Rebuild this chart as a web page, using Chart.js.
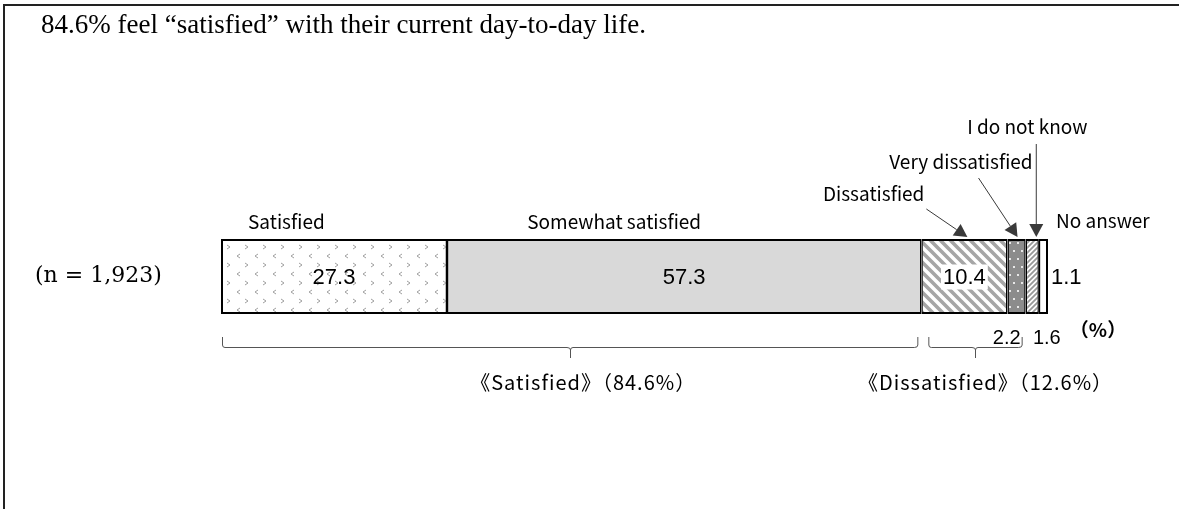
<!DOCTYPE html>
<html>
<head>
<meta charset="utf-8">
<script src="https://cdn.jsdelivr.net/npm/chart.js@4"></script>
<style>
  html, body { margin: 0; padding: 0; background: #fff; }
  #wrap { width: 1179px; height: 509px; position: relative; }
</style>
</head>
<body>
<div id="wrap"><canvas id="chart"></canvas></div>
<script>
// Data
const categories = ['Satisfied', 'Somewhat satisfied', 'Dissatisfied', 'Very dissatisfied', 'I do not know', 'No answer'];
const values = [27.3, 57.3, 10.4, 2.2, 1.6, 1.1];
const groupLabels = ['《Satisfied》（84.6%）', '《Dissatisfied》（12.6%）'];
const sampleLabel = '(n = 1,923)';
const titleText = '84.6% feel \u201csatisfied\u201d with their current day-to-day life.';

const canvas = document.getElementById('chart');
const ctx = canvas.getContext('2d');

function makePattern(w, h, bg, draw) {
    const c = document.createElement('canvas');
    c.width = w; c.height = h;
    const g = c.getContext('2d');
    g.fillStyle = bg;
    g.fillRect(0, 0, w, h);
    draw(g);
    return ctx.createPattern(c, 'repeat');
}

// small < > marks on white
const chevrons = makePattern(18, 18, '#ffffff', function(g) {
    g.strokeStyle = '#a0a0a0';
    g.lineWidth = 1;
    g.beginPath();
    g.moveTo(6, 2); g.lineTo(3, 4); g.lineTo(6, 6);
    g.moveTo(11, 11); g.lineTo(14, 13); g.lineTo(11, 15);
    g.stroke();
});

// wide "\" stripes
const wideStripes = makePattern(10, 10, '#ffffff', function(g) {
    g.strokeStyle = '#a6a6a6';
    g.lineWidth = 3.6;
    g.beginPath();
    g.moveTo(-5, -5); g.lineTo(15, 15);
    g.moveTo(-15, -5); g.lineTo(5, 15);
    g.moveTo(5, -5); g.lineTo(25, 15);
    g.stroke();
});

// dark grey with white dots
const dots = makePattern(8, 16, '#8c8c8c', function(g) {
    g.fillStyle = '#e8e8e8';
    g.fillRect(1, 2, 2, 2);
    g.fillRect(5, 10, 2, 2);
});

// fine "/" stripes
const fineStripes = makePattern(5, 5, '#ffffff', function(g) {
    g.strokeStyle = '#999999';
    g.lineWidth = 1.8;
    g.beginPath();
    g.moveTo(-2.5, 7.5); g.lineTo(7.5, -2.5);
    g.moveTo(-5, 5); g.lineTo(5, -5);
    g.moveTo(0, 10); g.lineTo(10, 0);
    g.stroke();
});

const fills = [chevrons, '#d9d9d9', wideStripes, dots, fineStripes, '#ffffff'];

const labelFont = '19px "Noto Sans CJK JP"';
const numFont = '22px "Liberation Sans"';

function arrow(c, x1, y1, x2, y2) {
    const ang = Math.atan2(y2 - y1, x2 - x1);
    const hl = 13, hw = 7;
    const bx = x2 - hl * Math.cos(ang), by = y2 - hl * Math.sin(ang);
    c.strokeStyle = '#3a3a3a';
    c.fillStyle = '#3a3a3a';
    c.lineWidth = 1;
    c.beginPath();
    c.moveTo(x1, y1); c.lineTo(bx, by);
    c.stroke();
    c.beginPath();
    c.moveTo(x2, y2);
    c.lineTo(bx + hw * Math.sin(ang), by - hw * Math.cos(ang));
    c.lineTo(bx - hw * Math.sin(ang), by + hw * Math.cos(ang));
    c.closePath();
    c.fill();
}

function bracket(c, xa, xb, y) {
    const mid = Math.round((xa + xb) / 2);
    c.strokeStyle = '#555555';
    c.lineWidth = 1;
    c.beginPath();
    c.moveTo(xa + 0.5, y - 10); c.lineTo(xa + 0.5, y - 2);
    c.quadraticCurveTo(xa + 0.5, y + 0.5, xa + 3, y + 0.5);
    c.lineTo(mid - 3, y + 0.5);
    c.quadraticCurveTo(mid + 0.5, y + 0.5, mid + 0.5, y + 3);
    c.lineTo(mid + 0.5, y + 11);
    c.moveTo(mid + 0.5, y + 3);
    c.quadraticCurveTo(mid + 0.5, y + 0.5, mid + 3, y + 0.5);
    c.lineTo(xb - 3, y + 0.5);
    c.quadraticCurveTo(xb + 0.5, y + 0.5, xb + 0.5, y - 2);
    c.lineTo(xb + 0.5, y - 10);
    c.stroke();
}

const annotations = {
    id: 'annotations',
    beforeDraw(chart) {
        const c = chart.ctx;
        c.save();
        c.fillStyle = '#ffffff';
        c.fillRect(0, 0, chart.width, chart.height);
        // frame
        c.strokeStyle = '#222222';
        c.lineWidth = 2;
        c.beginPath();
        c.moveTo(4, chart.height);
        c.lineTo(4, 5);
        c.lineTo(chart.width, 5);
        c.stroke();
        c.restore();
    },
    afterDatasetsDraw(chart) {
        const c = chart.ctx;
        const bars = chart.data.datasets.map((d, i) => chart.getDatasetMeta(i).data[0]);
        const left = bars.map(b => Math.min(b.base, b.x));
        const right = bars.map(b => Math.max(b.base, b.x));
        const cy = bars[0].y;
        const top = cy - bars[0].height / 2;
        const bottom = cy + bars[0].height / 2;
        const mid = i => (left[i] + right[i]) / 2;
        const fmt = v => v.toFixed(1);

        c.save();
        // title
        c.fillStyle = '#000';
        c.font = '27px "Liberation Serif"';
        c.textBaseline = 'middle';
        c.textAlign = 'left';
        c.fillText(titleText, 41, 26);

        // sample size
        c.font = '22px "DejaVu Serif"';
        c.fillText(sampleLabel, 35, cy);

        // values inside the big segments
        c.font = numFont;
        c.textAlign = 'center';
        [0, 1, 2].forEach(i => {
            const t = fmt(values[i]);
            if (i === 2) {
                const w = c.measureText(t).width;
                c.fillStyle = '#ffffff';
                c.fillRect(mid(i) - w / 2 - 2, cy - 12, w + 4, 25);
            }
            c.fillStyle = '#000';
            c.fillText(t, mid(i), cy + 1);
        });
        // small segments: values outside
        c.font = '20px "Liberation Sans"';
        c.textAlign = 'right';
        c.fillText(fmt(values[3]), right[3] - 5, bottom + 24);
        c.textAlign = 'left';
        c.fillText(fmt(values[4]), right[4] - 6, bottom + 24);
        c.font = numFont;
        c.fillText(fmt(values[5]), right[5] + 3, cy + 1);
        c.font = 'bold 19px "Noto Sans CJK JP"';
        c.textAlign = 'center';
        c.fillText('（%）', right[5] + 50, bottom + 16);

        // category labels
        c.font = labelFont;
        c.textAlign = 'left';
        c.fillText(categories[0], left[0] + 27, top - 17);
        c.textAlign = 'center';
        c.fillText(categories[1], mid(1) - 70, top - 17);
        c.textAlign = 'right';
        c.fillText(categories[2], mid(2) - 40, top - 45);
        c.fillText(categories[3], right[3] + 7, top - 77);
        c.textAlign = 'center';
        c.fillText(categories[4], mid(4) - 5, top - 112);
        c.textAlign = 'left';
        c.fillText(categories[5], right[5] + 8, top - 18);

        // leader arrows
        arrow(c, mid(2) - 38, top - 30, mid(2) + 3, top - 2);
        arrow(c, mid(3) - 38, top - 61, mid(3) + 1, top - 2);
        arrow(c, mid(4) + 4, top - 95, mid(4) + 4, top - 2);

        // group brackets
        const by = bottom + 33;
        bracket(c, left[0] + 1, right[1] - 4, by);
        bracket(c, left[2] + 7, right[3] - 4, by);
        c.fillStyle = '#000';
        c.font = '20px "Noto Sans CJK JP"';
        c.letterSpacing = '1px';
        c.textAlign = 'center';
        c.fillText(groupLabels[0], (left[0] + right[1]) / 2 + 12, by + 35);
        c.fillText(groupLabels[1], (left[2] + right[3]) / 2 + 12, by + 35);
        c.letterSpacing = '0px';
        c.restore();
    }
};

new Chart(ctx, {
    type: 'bar',
    data: {
        labels: [''],
        datasets: categories.map((name, i) => ({
            label: name,
            data: [values[i]],
            backgroundColor: fills[i],
            borderColor: '#000000',
            borderWidth: {
                top: 2,
                bottom: 2,
                left: i === 0 ? 2 : 1.5,
                right: i === categories.length - 1 ? 2 : 1.5
            },
            borderSkipped: false,
            barThickness: 75,
            inflateAmount: 0
        }))
    },
    options: {
        indexAxis: 'y',
        responsive: true,
        maintainAspectRatio: false,
        animation: false,
        layout: {
            padding: { left: 221, right: 131, top: 200, bottom: 156 }
        },
        scales: {
            x: { stacked: true, display: false, min: 0, max: 99.9 },
            y: { stacked: true, display: false }
        },
        plugins: {
            legend: { display: false },
            tooltip: { enabled: false }
        }
    },
    plugins: [annotations]
});
</script>
</body>
</html>
